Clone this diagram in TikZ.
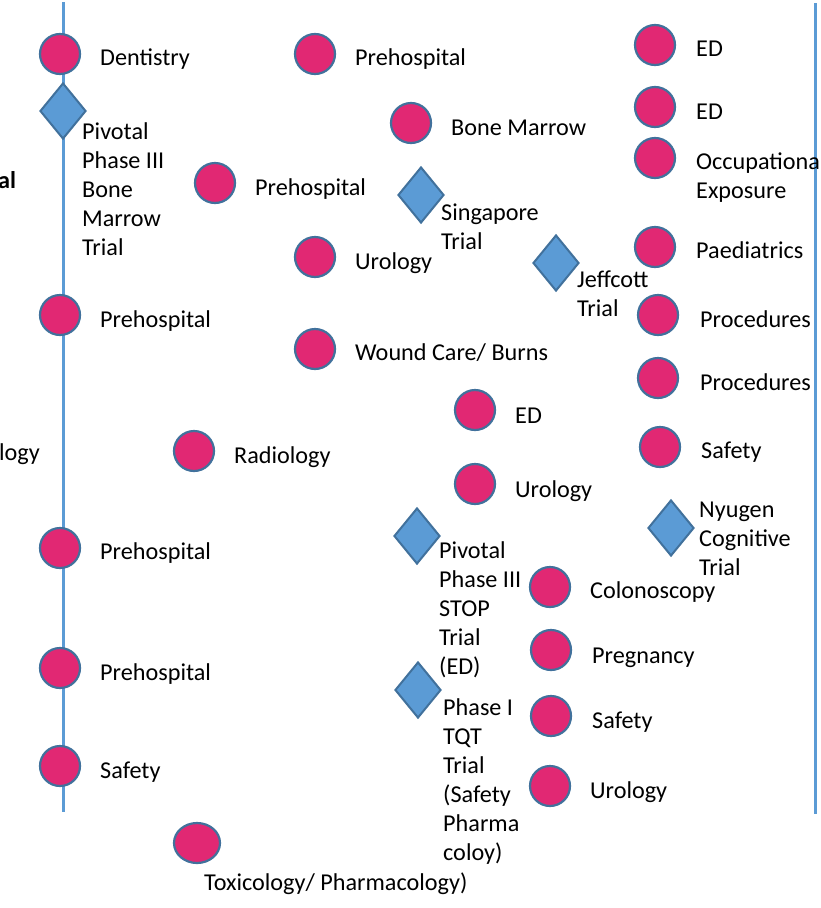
\documentclass[tikz,border=0pt]{standalone}
\usepackage{fontspec}
\setmainfont{Carlito}
\usetikzlibrary{shapes.geometric}
\definecolor{dotpink}{RGB}{225,40,115}
\definecolor{edgeblue}{RGB}{65,113,156}
\definecolor{lineblue}{RGB}{91,155,213}
\newcommand{\mlt}[1]{\begin{tabular}[t]{@{}l@{}}#1\end{tabular}}
\begin{document}
\begin{tikzpicture}[x=1pt,y=-1pt,
  dot/.style={circle,draw=edgeblue,fill=dotpink,line width=2.2pt,minimum size=40pt,inner sep=0pt},
  eldot/.style={ellipse,draw=edgeblue,fill=dotpink,line width=2.2pt,minimum width=46pt,minimum height=40pt,inner sep=0pt},
  trial/.style={diamond,draw=edgeblue,fill=lineblue,line width=2pt,minimum width=46pt,minimum height=56pt,inner sep=0pt},
  lbl/.style={anchor=base west,inner sep=0pt,font=\fontsize{24.2}{29}\selectfont},
  track/.style={draw=lineblue,line width=3pt}]
\useasboundingbox (0,0) rectangle (820,908);
\clip (0,0) rectangle (820,908);
% tracks
\coordinate (ltop) at (63,2);
\coordinate (lbot) at (63,812);
\coordinate (rtop) at (815,3);
\coordinate (rbot) at (815,814);
\draw[track] (ltop) -- (lbot);
\draw[track] (rtop) -- (rbot);
% cut-off texts at left edge
\node[lbl,font=\fontsize{24.2}{29}\selectfont\bfseries] (cutal) at (-2,188) {al};
\node[lbl] (cutlogy) at (-1,460) {logy};
% left column
\node[dot] (d1) at (60,54) {};
\node[lbl] (t1) at (100,65) {Dentistry};
\node[trial] (tr1) at (63,111) {};
\node[lbl] (tt1) at (82,139) {\mlt{Pivotal\\Phase III\\Bone\\Marrow\\Trial}};
\node[dot] (d2) at (60,315) {};
\node[lbl] (t2) at (100,327) {Prehospital};
\node[dot] (d3) at (60,548) {};
\node[lbl] (t3) at (100,559) {Prehospital};
\node[dot] (d4) at (60,668) {};
\node[lbl] (t4) at (100,680) {Prehospital};
\node[dot] (d5) at (60,766) {};
\node[lbl] (t5) at (100,778) {Safety};
\node[eldot] (d6) at (197,843) {};
\node[lbl] (t6) at (204,890) {Toxicology/ Pharmacology)};
% second column
\node[dot] (d7) at (315,54) {};
\node[lbl] (t7) at (355,65) {Prehospital};
\node[dot] (d8) at (215,183) {};
\node[lbl] (t8) at (255,195) {Prehospital};
\node[dot] (d9) at (194,451) {};
\node[lbl] (t9) at (234,463) {Radiology};
\node[dot] (d10) at (315,257) {};
\node[lbl] (t10) at (355,269) {Urology};
\node[dot] (d11) at (315,349) {};
\node[lbl] (t11) at (355,360) {Wound Care/ Burns};
% third column
\node[dot] (d12) at (411,123) {};
\node[lbl] (t12) at (451,135) {Bone Marrow};
\node[trial] (tr2) at (421,195) {};
\node[lbl] (tt2) at (441,220) {\mlt{Singapore\\Trial}};
\node[trial] (tr3) at (556,263) {};
\node[lbl] (tt3) at (577,287) {\mlt{Jeffcott\\Trial}};
\node[dot] (d13) at (475,410) {};
\node[lbl] (t13) at (515,423) {ED};
\node[dot] (d14) at (475,484) {};
\node[lbl] (t14) at (515,497) {Urology};
\node[trial] (tr4) at (417,536) {};
\node[lbl] (tt4) at (439,558) {\mlt{Pivotal\\Phase III\\STOP\\Trial\\(ED)}};
\node[trial] (tr5) at (418,690) {};
\node[lbl] (tt5) at (443,715) {\mlt{Phase I\\TQT\\Trial\\(Safety\\Pharma\\coloy)}};
\node[dot] (d15) at (550,587) {};
\node[lbl] (t15) at (590,598) {Colonoscopy};
\node[dot] (d16) at (551,650) {};
\node[lbl] (t16) at (592,663) {Pregnancy};
\node[dot] (d17) at (551,716) {};
\node[lbl] (t17) at (592,728) {Safety};
\node[dot] (d18) at (550,786) {};
\node[lbl] (t18) at (590,798) {Urology};
% right column
\node[dot] (d19) at (655,45) {};
\node[lbl] (t19) at (696,56) {ED};
\node[dot] (d20) at (655,107) {};
\node[lbl] (t20) at (696,119) {ED};
\node[dot] (d21) at (655,158) {};
\node[lbl] (t21) at (696,169) {\mlt{Occupationa\\Exposure}};
\node[dot] (d22) at (655,247) {};
\node[lbl] (t22) at (696,258) {Paediatrics};
\node[dot] (d23) at (658,315) {};
\node[lbl] (t23) at (700,327) {Procedures};
\node[dot] (d24) at (658,378) {};
\node[lbl] (t24) at (700,390) {Procedures};
\node[dot] (d25) at (660,447) {};
\node[lbl] (t25) at (701,458) {Safety};
\node[trial] (tr6) at (671,528) {};
\node[lbl] (tt6) at (699,517) {\mlt{Nyugen\\Cognitive\\Trial}};
\end{tikzpicture}
\end{document}
